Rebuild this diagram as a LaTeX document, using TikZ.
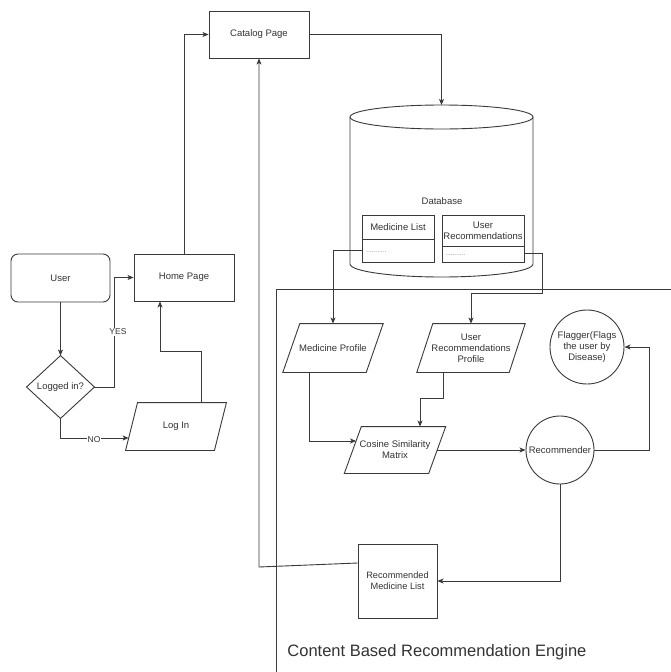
\documentclass[tikz,border=0pt]{standalone}
\usepackage{fontspec}
\setmainfont{Liberation Sans}
\usetikzlibrary{arrows.meta,calc}
\definecolor{linec}{HTML}{3A3A3A}
\definecolor{textc}{HTML}{333333}
\begin{document}
\begin{tikzpicture}[x=1pt,y=-1pt,
  line width=0.9pt,
  every node/.style={text=textc, font=\fontsize{9.5}{11}\selectfont, align=center, inner sep=0pt},
  boxnode/.style={draw=linec, fill=white, rectangle},
  plain/.style={rectangle, draw=none},
  conn/.style={draw=linec, -{Stealth[length=6pt,width=5pt,inset=1.5pt]}},
  edge/.style={draw=linec},
  lbl/.style={fill=white, font=\fontsize{8.5}{10}\selectfont, inner sep=1pt},
  dotsnode/.style={text=gray, font=\fontsize{6.5}{7}\selectfont}
]
\useasboundingbox (0,0) rectangle (671,672);
\fill[white] (0,0) rectangle (671,672);

% container of the engine
\draw[edge] (671,289) -- (276,289) -- (276,672);
\node[anchor=west, font=\fontsize{16.5}{19}\selectfont] (engine) at (287,652) {Content Based Recommendation Engine};

% left part
\node[boxnode, rounded corners=7pt, minimum width=99pt, minimum height=48pt] (user) at (60.5,278) {User};
\node[boxnode, minimum width=100pt, minimum height=47pt] (home) at (184,277.5) {Home Page};
\node[plain, minimum width=67pt, minimum height=62pt] (logged) at (60.5,387) {};
\draw[linec, fill=white] (logged.north) -- (logged.east) -- (logged.south) -- (logged.west) -- cycle;
\node at (logged.center) {Logged in?};
\node[plain, minimum width=88pt, minimum height=47pt] (login) at (176,426.5) {};
\draw[linec, fill=white] ([xshift=6pt]login.north west) -- ([xshift=6pt]login.north east) -- ([xshift=-6pt]login.south east) -- ([xshift=-6pt]login.south west) -- cycle;
\node at (login.center) {Log In};

% catalog
\node[boxnode, minimum width=100pt, minimum height=47pt] (catalog) at (259,34.5) {Catalog Page};

% database cylinder
\draw[linec, fill=white] (350,117) -- (350,264) arc[start angle=180, end angle=360, x radius=91.5pt, y radius=13pt] -- (533,117);
\draw[linec, fill=white] (441.5,117) ellipse[x radius=91.5pt, y radius=12pt];
\coordinate (dbtop) at (441.5,105);
\node (db) at (442,201) {Database};
\node[boxnode, minimum width=72pt, minimum height=47pt] (mlist) at (398,238.5) {};
\draw[linec] (362,239) -- (434,239);
\node at (398,227) {Medicine List};
\node[dotsnode, anchor=west] (mdots) at (366,252) {...........};
\node[boxnode, minimum width=82pt, minimum height=47pt] (urlist) at (483,238.5) {};
\draw[linec] (442,246) -- (524,246);
\node at (483,230.5) {User\\Recommendations};
\node[dotsnode, anchor=west] (udots) at (445,255) {...........};

% engine nodes
\node[plain, minimum width=82.5pt, minimum height=48pt] (mprof) at (333,348) {};
\draw[linec, fill=white] ([xshift=8.5pt]mprof.north west) -- ([xshift=8.5pt]mprof.north east) -- ([xshift=-8.5pt]mprof.south east) -- ([xshift=-8.5pt]mprof.south west) -- cycle;
\node at (mprof.center) {Medicine Profile};

\node[plain, minimum width=91.5pt, minimum height=48pt] (urprof) at (471,348) {};
\draw[linec, fill=white] ([xshift=8pt]urprof.north west) -- ([xshift=8pt]urprof.north east) -- ([xshift=-8pt]urprof.south east) -- ([xshift=-8pt]urprof.south west) -- cycle;
\node at (urprof.center) {User\\Recommendations\\Profile};

\node[plain, minimum width=83.5pt, minimum height=46pt] (cos) at (395,450) {};
\draw[linec, fill=white] ([xshift=8.5pt]cos.north west) -- ([xshift=8.5pt]cos.north east) -- ([xshift=-8.5pt]cos.south east) -- ([xshift=-8.5pt]cos.south west) -- cycle;
\node at (cos.center) {Cosine Similarity\\Matrix};

\node[circle, draw=linec, fill=white, minimum size=74pt] (flag) at (587,347) {Flagger(Flags\\the user by\\Disease)};
\node[circle, draw=linec, fill=white, minimum size=68pt] (rec) at (560,450) {Recommender};
\node[boxnode, minimum width=79pt, minimum height=74pt, font=\fontsize{9.2}{11}\selectfont] (reclist) at (397.5,581) {Recommended\\Medicine List};

% connectors
\coordinate (yesbend) at (114,387);
\coordinate (rc) at (259,567);
\coordinate (fr) at (649,450);
\coordinate (urbend) at (542,293);

\draw[conn] (user.south) -- (logged.north);
\draw[conn] (logged.east) -- (yesbend) |- (home.west);
\node[lbl] (yes) at (118,332) {YES};
\draw[conn] (logged.south) |- ([shift={(-2.9pt,-11.5pt)}]login.west);
\node[lbl] (no) at (94,440) {NO};
\draw[conn] ([xshift=25pt]login.north) -- ++(0,-51) -| ([xshift=-24pt]home.south);
\draw[conn] (home.north) |- (catalog.west);
\draw[conn] (catalog.east) -| (dbtop);
\draw[conn] ([yshift=-11.5pt]mlist.west) -| (mprof.north);
\draw[conn] ([yshift=-14.5pt]urlist.east) -| (urbend) -| (urprof.north);
\draw[conn] ([xshift=-24pt]mprof.south) |- ([shift={(3.3pt,9pt)}]cos.west);
\draw[conn] ([xshift=-28pt]urprof.south) -- ++(0,26) -| ([xshift=25pt]cos.north);
\draw[conn] (cos.east) -- (rec.west);
\draw[conn] (rec.east) -- (fr) |- (flag.east);
\draw[conn] (rec.south) |- (reclist.east);
\draw[conn] ([yshift=18pt]reclist.west) -- (rc) -- (catalog.south);
\end{tikzpicture}
\end{document}
